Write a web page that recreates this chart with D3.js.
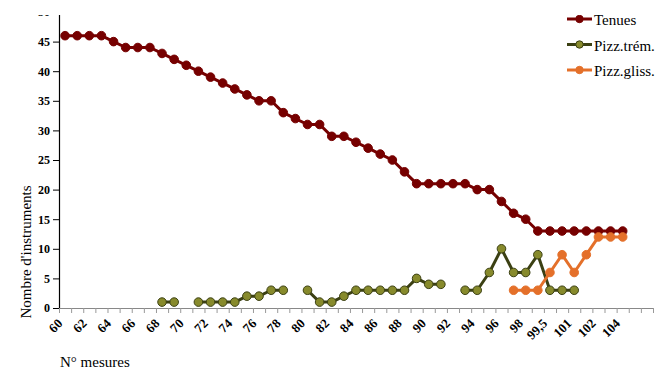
<!DOCTYPE html>
<html>
<head>
<meta charset="utf-8">
<script src="https://cdn.jsdelivr.net/npm/d3@7"></script>
<style>
  body { margin: 0; background: #fff; }
  svg { display: block; }
  svg text { font-family: "Liberation Serif", "Times New Roman", "DejaVu Serif", serif; fill: #000; }
</style>
</head>
<body>
<svg id="chart" width="660" height="375"></svg>
<script>
// categories (N° mesures), only every other one gets a label
var mesures = ["60","61","62","63","64","65","66","67","68","69",
               "70","71","72","73","74","75","76","77","78","79",
               "80","81","82","83","84","85","86","87","88","89",
               "90","91","92","93","94","95","96","97","98","99",
               "99,5","100","101","101,5","102","103","104","105","106"];

// null = no point
var tenues = [46,46,46,46,45,44,44,44,43,42,41,40,39,38,37,36,35,35,33,32,
              31,31,29,29,28,27,26,25,23,21,21,21,21,21,20,20,18,16,15,13,
              13,13,13,13,13,13,13,null,null];
var pizzTrem = [null,null,null,null,null,null,null,null,1,1,null,1,1,1,1,2,2,3,3,null,
                3,1,1,2,3,3,3,3,3,5,4,4,null,3,3,6,10,6,6,9,
                3,3,3,null,null,null,null,null,null];
var pizzGliss = [null,null,null,null,null,null,null,null,null,null,null,null,null,null,null,null,null,null,null,null,
                 null,null,null,null,null,null,null,null,null,null,null,null,null,null,null,null,null,3,3,3,
                 6,9,6,9,12,12,12,null,null];

var yTicks = [0,5,10,15,20,25,30,35,40,45,50];

var series = [
  {name: "Tenues", values: tenues, line: "#760000", fill: "#760000", stroke: "#760000"},
  {name: "Pizz.trém.", values: pizzTrem, line: "#3b4013", fill: "#878a2c", stroke: "#3b4013"},
  {name: "Pizz.gliss.", values: pizzGliss, line: "#e4702a", fill: "#e4702a", stroke: "#e4702a"}
];

var serif = "'Liberation Serif', 'Times New Roman', 'DejaVu Serif', serif";
var svg = d3.select("#chart");
var plotL = 59, plotR = 653, plotT = 12, plotB = 308;

var x = d3.scaleBand().domain(mesures).range([plotL, plotR]);
var xEdge = d3.scaleLinear().domain([0, mesures.length]).range([plotL, plotR]);
var y = d3.scaleLinear().domain([0, 50]).range([plotB, plotT]);

// y axis
svg.append("g")
  .attr("transform", "translate(" + plotL + ",0)")
  .call(d3.axisLeft(y).tickValues(yTicks).tickSize(6).tickPadding(3))
  .call(function(g){
    g.attr("font-family", serif).attr("font-size", 12).attr("font-weight", "bold");
    g.select(".domain").attr("stroke", "#000").attr("stroke-width", 1.2);
    g.selectAll(".tick line").attr("stroke", "#000");
  });

// x axis: tick marks on category edges
svg.append("g")
  .attr("transform", "translate(0," + plotB + ")")
  .call(d3.axisBottom(xEdge).tickValues(d3.range(mesures.length + 1)).tickFormat("").tickSize(5).tickSizeOuter(0))
  .call(function(g){
    g.select(".domain").attr("stroke", "#888");
    g.selectAll(".tick line").attr("stroke", "#999");
  });

// x labels, rotated
svg.append("g").selectAll("text")
  .data(mesures.filter(function(d, i){ return i % 2 == 0 && i <= 46; }))
  .enter().append("text")
  .attr("transform", function(d){ return "translate(" + (x(d) + x.bandwidth()/2 - 5) + "," + (plotB + 13) + ") rotate(-45)"; })
  .attr("text-anchor", "end")
  .attr("dy", "0.35em")
  .attr("font-family", serif)
  .attr("font-weight", "bold")
  .attr("font-size", 13)
  .text(function(d){ return d; });

// lines + markers
var line = d3.line()
  .defined(function(d){ return d != null; })
  .x(function(d, i){ return x(mesures[i]) + x.bandwidth()/2; })
  .y(function(d){ return y(d); });

series.forEach(function(s){
  svg.append("path")
    .datum(s.values)
    .attr("fill", "none")
    .attr("stroke", s.line)
    .attr("stroke-width", 3)
    .attr("stroke-linejoin", "round")
    .attr("d", line);

  svg.append("g").selectAll("circle")
    .data(s.values.map(function(v, i){ return {v: v, i: i}; }).filter(function(d){ return d.v != null; }))
    .enter().append("circle")
    .attr("cx", function(d){ return x(mesures[d.i]) + x.bandwidth()/2; })
    .attr("cy", function(d){ return y(d.v); })
    .attr("r", 4.3)
    .attr("fill", s.fill)
    .attr("stroke", s.stroke)
    .attr("stroke-width", 1);
});

// axis titles
svg.append("text")
  .attr("transform", "translate(31,252) rotate(-90)")
  .attr("text-anchor", "middle")
  .attr("font-family", serif).attr("font-size", 15)
  .text("Nombre d'instruments");

svg.append("text")
  .attr("x", 60).attr("y", 367)
  .attr("font-family", serif).attr("font-size", 15)
  .text("N° mesures");

// legend
var leg = svg.append("g").selectAll("g")
  .data(series)
  .enter().append("g")
  .attr("transform", function(d, i){ return "translate(567," + (19 + i * 25.5) + ")"; });
leg.append("line")
  .attr("x1", 0).attr("x2", 25)
  .attr("stroke", function(d){ return d.line; })
  .attr("stroke-width", 3);
leg.append("circle")
  .attr("cx", 12.5).attr("r", 3.7)
  .attr("fill", function(d){ return d.fill; })
  .attr("stroke", function(d){ return d.stroke; });
leg.append("text")
  .attr("x", 27).attr("y", 6)
  .attr("font-family", serif).attr("font-size", 15)
  .text(function(d){ return d.name; });

// the reference picture is cut off at the top
svg.append("rect")
  .attr("x", 0).attr("y", 0).attr("width", 660).attr("height", 15)
  .attr("fill", "#fff");
</script>
</body>
</html>
